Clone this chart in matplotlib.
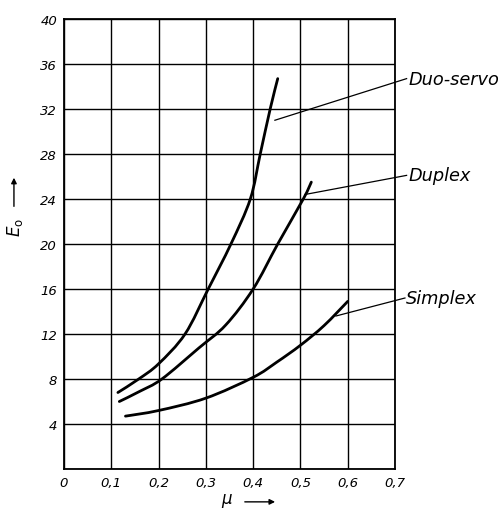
import matplotlib
matplotlib.use("Agg")
import matplotlib.pyplot as plt
from matplotlib.path import Path
from matplotlib.patches import PathPatch, FancyArrowPatch

# values
duo_mu = [0.114, 0.158, 0.2, 0.256, 0.305, 0.353, 0.394, 0.415, 0.436, 0.452]
duo_e = [6.8, 8.0, 9.35, 12.0, 16.0, 20.0, 24.0, 28.0, 32.0, 34.7]

dup_mu = [0.117, 0.16, 0.207, 0.285, 0.342, 0.4, 0.452, 0.506, 0.523]
dup_e = [6.0, 6.9, 8.0, 10.75, 12.8, 16.0, 20.0, 24.0, 25.5]

sim_mu = [0.13, 0.2, 0.3, 0.4, 0.45, 0.5, 0.55, 0.6]
sim_e = [4.7, 5.2, 6.3, 8.15, 9.5, 11.0, 12.75, 14.9]

names = ["Duo-servo", "Duplex", "Simplex"]
leader_from = [(0.446, 31.0), (0.5095, 24.4), (0.575, 13.6)]
leader_to = [(0.7245, 34.7), (0.7245, 26.1), (0.721, 15.2)]

x_ticks = [0, 0.1, 0.2, 0.3, 0.4, 0.5, 0.6, 0.7]
x_labels = ["0", "0,1", "0,2", "0,3", "0,4", "0,5", "0,6", "0,7"]
y_ticks = [0, 4, 8, 12, 16, 20, 24, 28, 32, 36, 40]
y_labels = ["", "4", "8", "12", "16", "20", "24", "28", "32", "36", "40"]


def smooth_path(xs, ys):
    # catmull-rom through the read points, drawn as cubic bezier segments
    # (y scaled so the tangents are taken in a roughly square space)
    k = 0.7 / 40.0
    pts = [(x, y * k) for x, y in zip(xs, ys)]
    n = len(pts)
    verts = [pts[0]]
    codes = [Path.MOVETO]
    for i in range(n - 1):
        p0 = pts[i - 1] if i > 0 else pts[i]
        p1 = pts[i]
        p2 = pts[i + 1]
        p3 = pts[i + 2] if i + 2 < n else pts[i + 1]
        c1 = (p1[0] + (p2[0] - p0[0]) / 6, p1[1] + (p2[1] - p0[1]) / 6)
        c2 = (p2[0] - (p3[0] - p1[0]) / 6, p2[1] - (p3[1] - p1[1]) / 6)
        verts += [c1, c2, p2]
        codes += [Path.CURVE4] * 3
    verts = [(x, y / k) for x, y in verts]
    return Path(verts, codes)


fig = plt.figure(figsize=(4.98, 5.10), dpi=100)
ax = fig.add_axes([0.1285, 0.0784, 0.6647, 0.8824])

ax.set_xlim(0, 0.7)
ax.set_ylim(0, 40)
ax.set_xticks(x_ticks)
ax.set_xticklabels(x_labels, fontstyle="italic", fontsize=9.5)
ax.set_yticks(y_ticks)
ax.set_yticklabels(y_labels, fontstyle="italic", fontsize=9.5)
ax.tick_params(length=0, pad=5)
ax.grid(True, color="black", lw=1.0)
ax.set_axisbelow(True)
for s in ax.spines.values():
    s.set_linewidth(1.3)

for xs, ys in [(duo_mu, duo_e), (dup_mu, dup_e), (sim_mu, sim_e)]:
    ax.add_patch(PathPatch(smooth_path(xs, ys), fill=False, color="black",
                           lw=2.0, capstyle="round"))

for name, p0, p1 in zip(names, leader_from, leader_to):
    ax.plot([p0[0], p1[0]], [p0[1], p1[1]], color="black", lw=0.9, clip_on=False)
    ax.text(p1[0] + 0.003, p1[1], name, fontstyle="italic", fontsize=12.8,
            va="center", ha="left", clip_on=False)

# axis labels with arrows, as in the print
fig.text(0.030, 0.553, r"$E_\mathrm{o}$", rotation=90, fontsize=12,
         ha="center", va="center")
fig.add_artist(FancyArrowPatch(
    (0.028, 0.588), (0.028, 0.655), transform=fig.transFigure,
    arrowstyle="-|>", mutation_scale=8, color="black", lw=1.0))

fig.text(0.456, 0.017, r"$\mu$", fontsize=12, ha="center", va="center")
fig.add_artist(FancyArrowPatch(
    (0.486, 0.014), (0.558, 0.014), transform=fig.transFigure,
    arrowstyle="-|>", mutation_scale=8, color="black", lw=1.0))

fig.savefig("out.png", dpi=100)
